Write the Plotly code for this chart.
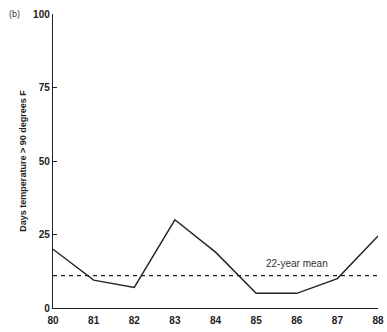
import plotly.graph_objects as go

years = [80, 81, 82, 83, 84, 85, 86, 87, 88]
days = [20, 9.5, 7, 30, 19, 5, 5, 10, 24.5]
mean_days = 11
tick_vals_y = [0, 25, 50, 75, 100]

fig = go.Figure()
fig.add_trace(go.Scatter(x=years, y=days, mode="lines",
                         line=dict(color="#222", width=1.4), showlegend=False))
fig.add_trace(go.Scatter(x=[years[0], years[-1]], y=[mean_days, mean_days], mode="lines",
                         line=dict(color="#222", width=1.4, dash="4px,4px"), showlegend=False))

fig.add_annotation(x=86, y=mean_days + 4, text="22-year mean", showarrow=False,
                   font=dict(size=10, color="#333", family="Liberation Sans"))
fig.add_annotation(x=-0.12, y=1.0, xref="paper", yref="paper", yanchor="middle",
                   xanchor="center",
                   text="(b)", showarrow=False,
                   font=dict(size=9, color="#333", family="Liberation Sans"))

fig.update_layout(
    width=387, height=332,
    margin=dict(l=53, r=9, t=14, b=24, autoexpand=False),
    plot_bgcolor="white", paper_bgcolor="white",
    font=dict(family="Liberation Sans", size=10, color="#222"),
    xaxis=dict(range=[80, 88], tickvals=years, ticktext=[str(y) for y in years],
               showgrid=False, zeroline=False, showline=True, linecolor="#222",
               linewidth=1.4, ticks="", ticklabelstandoff=3, automargin=False,
               tickfont=dict(size=10, family="Liberation Sans", weight="bold")),
    yaxis=dict(range=[0, 100], tickvals=tick_vals_y, showgrid=False, zeroline=False,
               showline=True, linecolor="#222", linewidth=1.4, ticks="inside",
               ticklen=4, tickcolor="#222", automargin=False,
               title=dict(text="Days temperature > 90 degrees F",
                          font=dict(size=9, weight="bold"), standoff=4),
               tickfont=dict(size=10, weight="bold")),
)
fig.write_html("out.html")
